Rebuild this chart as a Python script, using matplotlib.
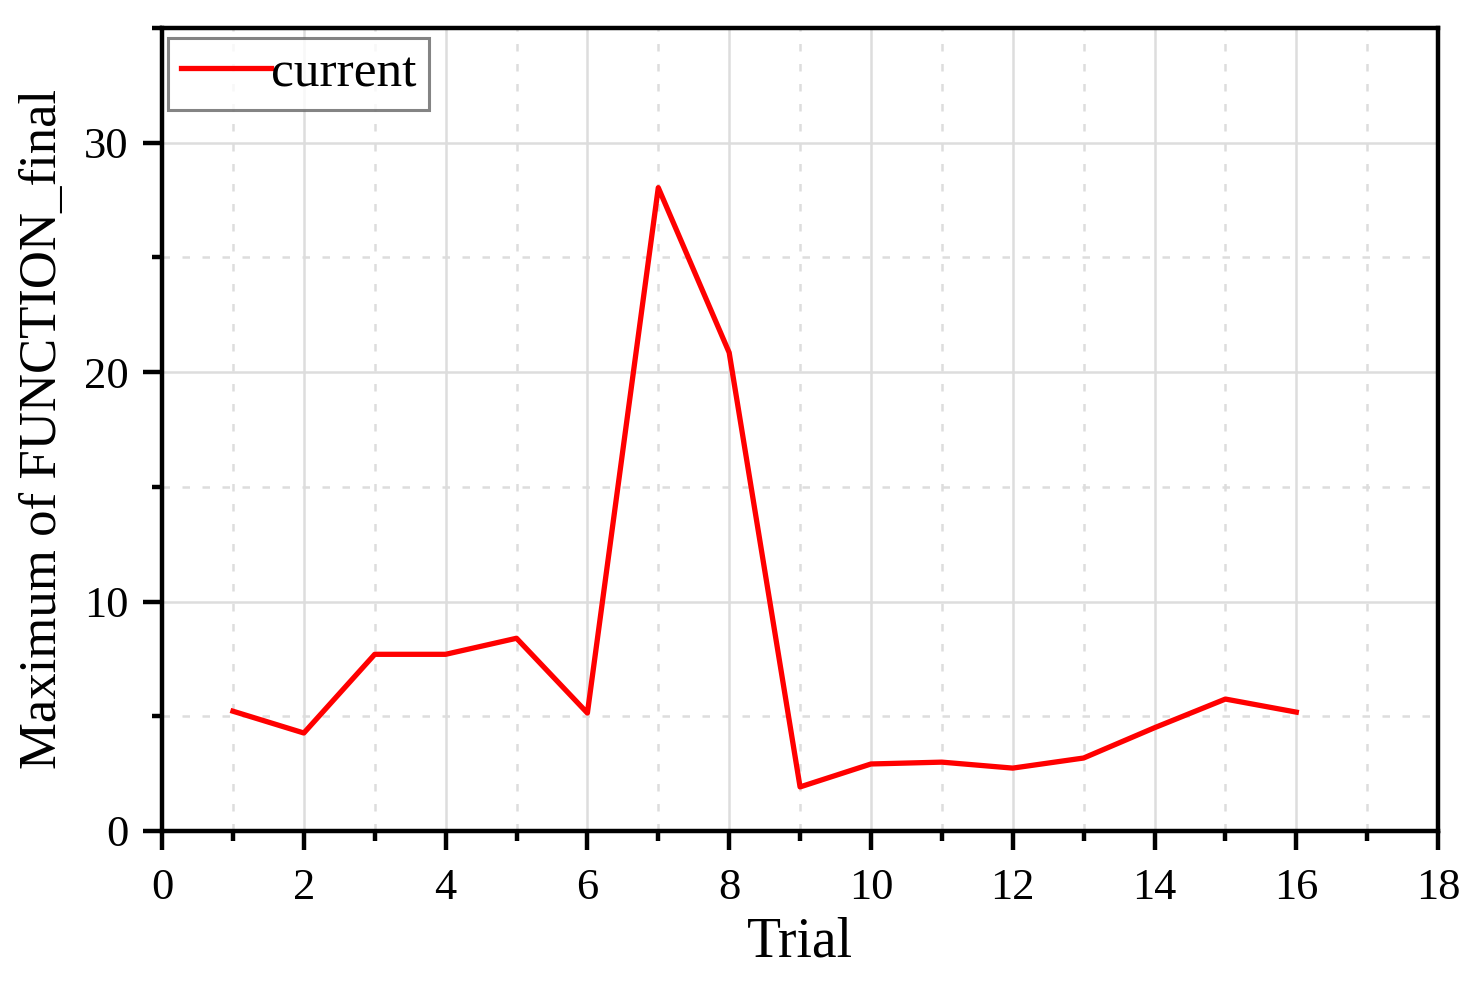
import matplotlib
matplotlib.use("Agg")
import matplotlib.pyplot as plt
from matplotlib.ticker import MultipleLocator

trial = [1, 2, 3, 4, 5, 6, 7, 8, 9, 10, 11, 12, 13, 14, 15, 16]
current = [5.22, 4.27, 7.7, 7.7, 8.4, 5.14, 28.04, 20.85, 1.92, 2.92, 3.0, 2.74, 3.18, 4.5, 5.75, 5.18]

plt.rcParams["font.family"] = ["Liberation Serif", "DejaVu Serif"]

fig = plt.figure(figsize=(14.76, 9.82), dpi=100)
ax = fig.add_axes([0.1098, 0.1538, 0.9743 - 0.1098, 0.9715 - 0.1538])

ax.plot(trial, current, color="#ff0000", lw=3.8, label="current")

ax.set_xlim(0, 18)
ax.set_ylim(0, 35)
ax.xaxis.set_major_locator(MultipleLocator(2))
ax.xaxis.set_minor_locator(MultipleLocator(1))
ax.yaxis.set_major_locator(MultipleLocator(10))
ax.yaxis.set_minor_locator(MultipleLocator(5))

ax.grid(which="major", color="#dddddd", lw=1.8, ls="-")
ax.grid(which="minor", color="#dddddd", lw=1.8, ls=(0, (3, 5)))
ax.set_axisbelow(True)

for s in ax.spines.values():
    s.set_linewidth(3.2)
ax.tick_params(which="major", direction="out", length=14, width=3.2, labelsize=32, pad=10,
               top=False, right=False)
ax.tick_params(which="minor", direction="out", length=7, width=3.2, top=False, right=False)
ax.tick_params(axis="x", which="major", pad=13)

ax.set_xlabel("Trial", fontsize=40, labelpad=6)
ax.set_ylabel("Maximum of FUNCTION_final", fontsize=38, labelpad=12)

leg = ax.legend(loc="upper left", fontsize=37, frameon=True, fancybox=False,
                handlelength=1.75, handletextpad=0.0, borderpad=0.25, borderaxespad=0,
                bbox_to_anchor=(0.005, 0.988))
leg.get_frame().set_edgecolor("#666666")
leg.get_frame().set_linewidth(2.2)

fig.savefig("out.png", dpi=100)
